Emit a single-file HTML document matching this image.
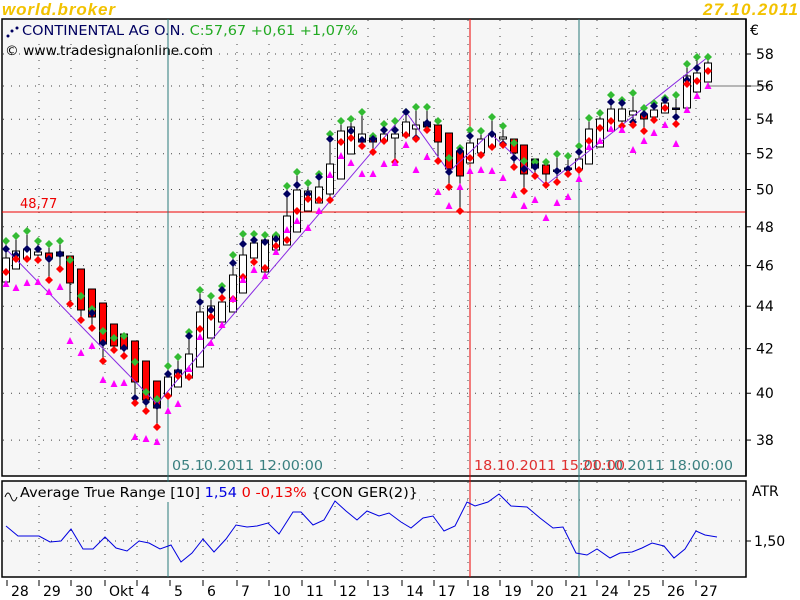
<!DOCTYPE html>
<html><head><meta charset="utf-8"><style>
body{margin:0;background:#fff;}
svg{display:block;font-family:"DejaVu Sans","Liberation Sans",sans-serif;}
</style></head><body>
<svg id="s" width="800" height="600" xmlns="http://www.w3.org/2000/svg">
<rect x="0" y="0" width="800" height="600" fill="#fff"/>
<rect x="2" y="19" width="744" height="457" fill="#f6f6f6" stroke="#000" stroke-width="1.5"/>
<rect x="2" y="481" width="744" height="96" fill="#f6f6f6" stroke="#000" stroke-width="1.5"/>
<g id="grid" stroke="#444" stroke-width="1" stroke-dasharray="1,7"></g>
<text x="2" y="15" font-size="17" font-weight="bold" font-style="italic" fill="#f2c200" font-family="Liberation Sans,sans-serif" textLength="113">world.broker</text>
<text x="703" y="15" font-size="17" font-weight="bold" font-style="italic" fill="#f2c200" font-family="Liberation Sans,sans-serif" textLength="95">27.10.2011</text>
<rect x="3" y="20" width="355" height="19" fill="#f6f6f6"/>
<circle cx="8" cy="36" r="1.5" fill="#000060"/><circle cx="12" cy="31" r="1.5" fill="#000060"/><circle cx="17" cy="28" r="1.5" fill="#000060"/>
<text x="22" y="35" font-size="13" fill="#000060" textLength="336" lengthAdjust="spacingAndGlyphs">CONTINENTAL AG O.N. <tspan fill="#22aa22">C:57,67 +0,61 +1,07%</tspan></text>
<text x="5" y="55" font-size="13" fill="#000" textLength="208" lengthAdjust="spacingAndGlyphs">© www.tradesignalonline.com</text>
<line x1="2" y1="212" x2="746" y2="212" stroke="#e00" stroke-width="1"/>
<text x="20" y="208" font-size="13" fill="#e00">48,77</text>
<line x1="168" y1="19" x2="168" y2="577" stroke="#2a7a7a" stroke-width="1"/>
<line x1="470" y1="19" x2="470" y2="577" stroke="#e00" stroke-width="1"/>
<line x1="579" y1="19" x2="579" y2="577" stroke="#2a7a7a" stroke-width="1"/>
<text x="172" y="470" font-size="13" fill="#3a8080" textLength="151" lengthAdjust="spacingAndGlyphs">05.10.2011 12:00:00</text>
<text x="582" y="470" font-size="13" fill="#3a8080" textLength="151" lengthAdjust="spacingAndGlyphs">21.10.2011 18:00:00</text>
<text x="474" y="470" font-size="13" fill="#e03030" textLength="151" lengthAdjust="spacingAndGlyphs">18.10.2011 15:00:00</text>
<g id="plot"></g>
<line x1="708" y1="86" x2="770" y2="86" stroke="#777" stroke-width="1"/>
<line x1="746" y1="19" x2="746" y2="476" stroke="#000" stroke-width="1.5"/>
<text x="750" y="35" font-size="14" fill="#000">€</text>
<g id="yl" font-size="14" fill="#000"></g>
<rect x="3" y="482" width="415" height="20" fill="#f6f6f6"/>
<path d="M5 497 q3 -8 6 0 q3 8 6 0" fill="none" stroke="#000" stroke-width="1"/>
<text x="20" y="497" font-size="13" fill="#000" textLength="398" lengthAdjust="spacingAndGlyphs">Average True Range [10] <tspan fill="#0000e0">1,54</tspan> <tspan fill="#e00">0 -0,13%</tspan> {CON GER(2)}</text>
<text x="752" y="496" font-size="14" fill="#000">ATR</text>
<text x="754" y="546" font-size="14" fill="#000">1,50</text>
<line x1="746" y1="541" x2="751" y2="541" stroke="#000"/>
<polyline id="atr" fill="none" stroke="#0000e0" stroke-width="1"/>
<g id="xl" font-size="14" fill="#000"></g>
</svg>
<script>
var NS="http://www.w3.org/2000/svg";
function el(p,t,a){var e=document.createElementNS(NS,t);for(var k in a)e.setAttribute(k,a[k]);p.appendChild(e);return e;}
var g=document.getElementById('grid'),plot=document.getElementById('plot');
var Y=function(p){return 54+913*Math.log(58/p);};
var yl=document.getElementById('yl');
[58,56,54,52,50,48,46,44,42,40,38].forEach(function(p){var y=Y(p);
 el(g,'line',{x1:3,y1:y,x2:745,y2:y});
 el(document.getElementById('s'),'line',{x1:746,y1:y,x2:751,y2:y,stroke:'#000'});
 var t=el(yl,'text',{x:756,y:y+5});t.textContent=p;});
el(g,'line',{x1:3,y1:500,x2:745,y2:500});el(g,'line',{x1:3,y1:541,x2:745,y2:541});
var ticks=[[7,'28'],[39,'29'],[71,'30'],[105,'Okt'],[137,'4'],[170,'5'],[203,'6'],[237,'7'],[269,'10'],[302,'11'],[335,'12'],[368,'13'],[402,'14'],[434,'17'],[468,'18'],[500,'19'],[532,'20'],[566,'21'],[597,'24'],[629,'25'],[663,'26'],[696,'27']];
var xl=document.getElementById('xl');
ticks.forEach(function(t){var x=t[0];
 if(x>20&&x!=170)el(g,'line',{x1:x,y1:20,x2:x,y2:476}),el(g,'line',{x1:x,y1:482,x2:x,y2:577});
 el(document.getElementById('s'),'line',{x1:x,y1:580,x2:x,y2:586,stroke:'#000'});
 var tx=el(xl,'text',{x:x+4,y:596});tx.textContent=t[1];});
var B=[[6,258,282,'w',241,249,272,284],[16,251,269,'w',236,255,259,288],[27,249,259,'w',231,249,259,283],[38,252,255,'w',241,249,260,282],[49,253,258,'r',244,259,280,292],[60,252,256,'n',241,254,269,287],
[70,256,283,'r',260,0,304,341],[81,269,310,'r',296,0,320,353],[92,289,317,'r',309,313,328,346],[103,303,344,'r',331,343,361,380],[114,324,346,'r',338,0,350,384],[124,334,349,'r',336,348,356,383],
[135,341,382,'r',362,398,403,437],[146,361,400,'r',392,402,411,439],[157,381,408,'r',399,406,427,442],[168,377,396,'w',366,374,396,411],[178,370,387,'w',357,372,376,404],[189,354,378,'w',332,336,377,369],
[200,312,367,'w',290,302,329,337],[211,306,338,'w',296,310,317,343],[222,302,322,'w',286,290,298,325],[233,275,312,'w',255,263,299,299],[243,255,293,'w',234,244,277,280],[254,243,258,'w',234,240,262,270],
[265,240,272,'w',235,242,268,276],[276,236,250,'w',235,239,246,252],[287,216,245,'w',186,194,240,230],[297,190,232,'w',172,185,211,221],[308,191,211,'w',183,194,199,228],[319,187,203,'w',174,177,200,211],
[330,164,194,'w',134,139,200,175],[341,131,179,'w',121,0,142,156],[351,127,154,'w',119,131,138,163],[362,134,142,'w',112,140,146,174],[373,138,142,'r',136,139,152,174],[384,134,141,'w',124,130,141,164],
[395,134,138,'w',121,130,162,163],[406,122,136,'w',112,112,135,145],[416,125,129,'w',107,138,139,170],[427,122,127,'n',107,123,130,157],[438,125,142,'r',121,0,161,192],[449,133,169,'r',158,172,187,206],
[460,151,176,'r',148,151,211,187],[470,143,163,'w',130,136,158,171],[481,139,153,'w',131,0,155,170],[492,134,147,'w',117,134,147,171],[503,137,139,'w',126,144,145,178],[514,139,153,'r',143,158,167,195],
[524,145,174,'r',161,169,191,206],[535,159,168,'n',162,167,176,200],[546,165,174,'r',162,0,185,218],[557,170,171,'n',154,171,182,203],[568,168,169,'n',156,169,174,197],[579,159,169,'w',146,152,170,179],
[589,129,164,'w',118,0,141,147],[600,119,147,'w',113,0,128,141],[611,109,131,'w',95,102,121,129],[622,109,121,'w',100,103,126,130],[633,111,115,'w',93,122,125,150],[644,114,119,'r',108,114,131,141],
[654,110,117,'w',103,106,120,133],[665,103,113,'w',98,100,108,125],[676,108,109,'n',95,117,124,144],[687,76,108,'w',64,80,84,110],[697,73,92,'w',57,68,81,96],[708,63,82,'w',57,0,71,86]];
var mk=el(plot,'g',{});
B.forEach(function(b){var x=b[0],t=b[1],bt=b[2];
 var hi=Math.min(b[4],t),lo=Math.max(b[6],bt);
 el(plot,'line',{x1:x,y1:hi,x2:x,y2:lo,stroke:'#000','stroke-width':1});
 var f=b[3]=='w'?'#fff':(b[3]=='r'?'#f00':'#000060');
 el(plot,'rect',{x:x-3.5,y:t,width:7,height:Math.max(bt-t,1.5),fill:f,stroke:'#000','stroke-width':1});
});
function dia(x,y,c){el(mk,'path',{d:'M'+x+' '+(y-4)+'L'+(x+4)+' '+y+'L'+x+' '+(y+4)+'L'+(x-4)+' '+y+'Z',fill:c});}
B.forEach(function(b){var x=b[0];
 dia(x,b[4],'#33bb33'); if(b[5])dia(x,b[5],'#000060'); dia(x,b[6],'#f00');
 el(mk,'path',{d:'M'+x+' '+(b[7]-4)+'L'+(x+3.5)+' '+(b[7]+3)+'L'+(x-3.5)+' '+(b[7]+3)+'Z',fill:'#ff00ff'});
});
el(plot,'polyline',{points:'6,249 157,404 406,112 449,172 490,133 546,185 708,57',fill:'none',stroke:'#8a2be2','stroke-width':1});
plot.appendChild(mk);
document.getElementById('atr').setAttribute('points','6,526 18,536 39,536 50,542 61,541 71,529 83,549 93,549 105,537 116,548 127,551 139,541 149,543 160,549 171,545 181,562 192,553 203,539 214,552 226,539 236,525 247,527 257,526 268,523 279,534 293,512 301,512 313,525 324,520 335,501 346,511 357,520 367,511 379,516 389,513 401,522 411,528 423,518 433,516 444,531 455,526 467,502 475,506 488,502 499,494 511,506 527,507 540,518 553,528 563,527 576,553 587,555 597,549 610,558 620,553 632,552 642,548 652,543 664,546 674,558 685,549 696,531 705,535 717,537');
</script>
</body></html>
